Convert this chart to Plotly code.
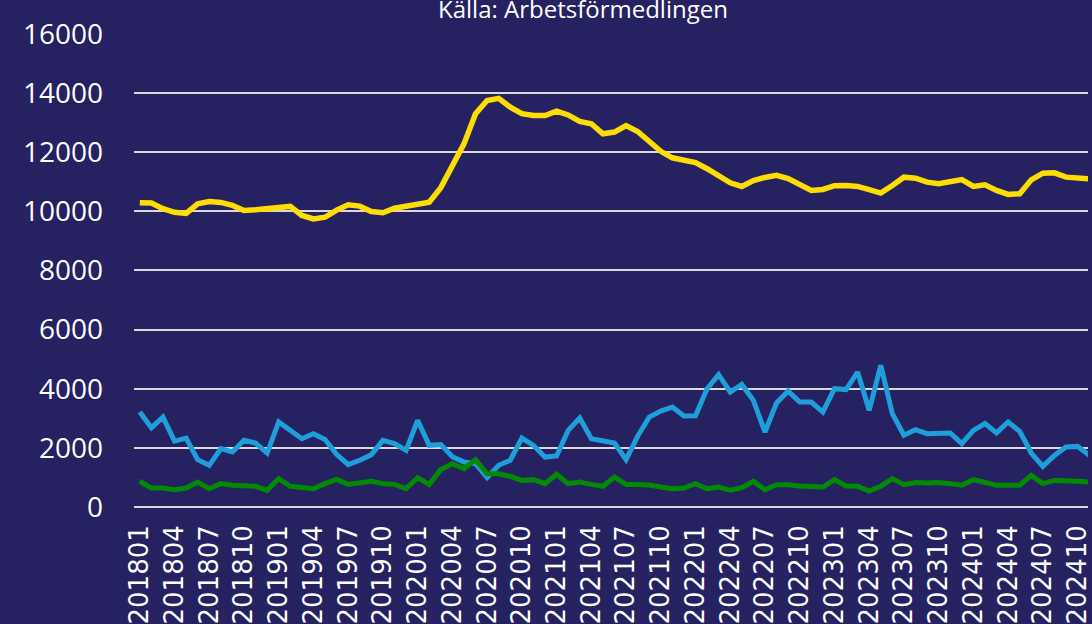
import plotly.graph_objects as go

# Categories: monthly periods 201801 .. 202411
months = [f"{y}{m:02d}" for y in range(2018, 2025) for m in range(1, 13)][:83]

yellow_vals = [10290, 10280, 10090, 9965, 9930, 10255, 10330, 10300, 10200, 10030,
               10050, 10090, 10130, 10165, 9860, 9740, 9800, 10040, 10220, 10175,
               9995, 9950, 10105, 10185, 10255, 10310, 10800, 11520, 12280, 13300,
               13750, 13820, 13520, 13300, 13240, 13240, 13385, 13260, 13040, 12960,
               12620, 12680, 12900, 12700, 12370, 12030, 11810, 11740, 11650, 11440,
               11180, 10965, 10840, 11040, 11145, 11220, 11110, 10905, 10705, 10740,
               10865, 10875, 10840, 10730, 10615, 10875, 11155, 11120, 10985, 10930,
               10985, 11075, 10840, 10895, 10705, 10570, 10595, 11065, 11290, 11300,
               11155, 11110, 11100]

blue_vals = [3210, 2680, 3040, 2230, 2330, 1600, 1410, 1975, 1860, 2255,
             2165, 1825, 2875, 2590, 2310, 2480, 2280, 1780, 1435, 1580,
             1770, 2255, 2145, 1915, 2930, 2085, 2110, 1700, 1520, 1465,
             995, 1410, 1580, 2330, 2085, 1690, 1725, 2590, 3010, 2310,
             2255, 2165, 1600, 2390, 3040, 3245, 3380, 3075, 3085, 4000,
             4475, 3885, 4145, 3605, 2535, 3520, 3920, 3550, 3550, 3210,
             4000, 3970, 4565, 3270, 4790, 3155, 2425, 2615, 2480, 2480,
             2505, 2145, 2590, 2820, 2505, 2875, 2560, 1825, 1375, 1745,
             2030, 2050, 1750]

green_vals = [870, 640, 640, 585, 640, 845, 620, 790, 735, 720,
              700, 565, 960, 700, 640, 620, 790, 935, 765, 810,
              870, 790, 765, 620, 990, 765, 1265, 1465, 1300, 1600,
              1125, 1125, 1035, 900, 925, 790, 1105, 790, 845, 765,
              700, 1015, 765, 765, 745, 675, 620, 640, 790, 620,
              675, 565, 655, 870, 585, 755, 755, 710, 675, 675,
              925, 710, 700, 540, 700, 960, 755, 825, 810, 825,
              790, 735, 925, 810, 735, 735, 735, 1070, 790, 900,
              900, 870, 845]

y_ticks = [0, 2000, 4000, 6000, 8000, 10000, 12000, 14000, 16000]

BG = "#262262"
GRID = "#d9d9d9"

fig = go.Figure()
fig.add_trace(go.Scatter(x=months, y=yellow_vals, mode="lines",
                         line=dict(color="#ffdd00", width=5.5), name="yellow"))
fig.add_trace(go.Scatter(x=months, y=blue_vals, mode="lines",
                         line=dict(color="#1e9fda", width=5), name="blue"))
fig.add_trace(go.Scatter(x=months, y=green_vals, mode="lines",
                         line=dict(color="#008a00", width=5), name="green"))

fig.update_layout(
    width=1092, height=624,
    margin=dict(l=134, r=0, t=33, b=117),
    paper_bgcolor=BG, plot_bgcolor=BG,
    showlegend=False,
    xaxis=dict(type="category", range=[-0.5, 81.9], tickmode="linear", tick0=0, dtick=3,
               tickangle=-90, showgrid=False, zeroline=False, showline=False,
               ticks="", ticklabelstandoff=12,
               tickfont=dict(family="DejaVu Sans", size=26, color="white")),
    yaxis=dict(range=[0, 16030], tickvals=y_ticks, tickformat="d",
               showgrid=True, gridcolor=GRID,
               gridwidth=1.5, zeroline=True, zerolinecolor=GRID, zerolinewidth=1.5,
               showline=False, ticks="", ticklabelstandoff=30,
               tickfont=dict(family="Open Sans", size=28, color="white")),
    annotations=[dict(text="Källa: Arbetsförmedlingen", xref="paper", yref="paper",
                      x=(585 - 134) / (1092 - 134), y=1, xanchor="center", yanchor="bottom",
                      yshift=6, showarrow=False,
                      font=dict(family="Open Sans", size=24, color="white"))],
)

fig.write_html("out.html", config={"displayModeBar": False},
               post_script="document.body.style.margin='0';document.body.style.overflow='hidden';")
